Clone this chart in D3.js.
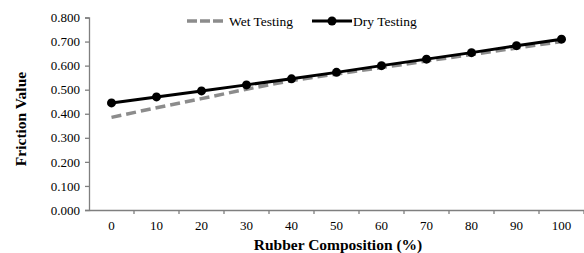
<!DOCTYPE html>
<html>
<head>
<meta charset="utf-8">
<script src="https://cdn.jsdelivr.net/npm/d3@7"></script>
<style>
  body { margin: 0; background: #fff; }
</style>
</head>
<body>
<div id="chart"></div>
<script>
// data
const categories = ["0", "10", "20", "30", "40", "50", "60", "70", "80", "90", "100"]
const wetValues = [0.385, 0.425, 0.463, 0.502, 0.538, 0.565, 0.592, 0.619, 0.646, 0.673, 0.700]
const dryValues = [0.445, 0.470, 0.495, 0.520, 0.545, 0.572, 0.600, 0.627, 0.654, 0.683, 0.710]
const yTicks = [0, 0.1, 0.2, 0.3, 0.4, 0.5, 0.6, 0.7, 0.8]

var width = 584,
    height = 253,
    margin = {top: 17.5, right: 0, bottom: 43, left: 89};

var font = "Liberation Serif"

var svg = d3.select("#chart").append("svg")
  .attr("width", width)
  .attr("height", height)
  .attr("font-family", font)

var x = d3.scaleBand()
  .domain(categories)
  .range([margin.left, width - margin.right])

var y = d3.scaleLinear()
  .domain([0, 0.8])
  .range([height - margin.bottom, margin.top])

var axisColor = "#7f7f7f"

// y axis
var yAxis = svg.append("g")
  .attr("transform", "translate(" + margin.left + ",0)")
  .call(d3.axisLeft(y).tickValues(yTicks).tickFormat(d3.format(".3f")).tickSizeOuter(0).tickSize(4).tickPadding(5))
  .attr("font-family", font)
  .attr("font-size", 13)
yAxis.select(".domain").attr("stroke", axisColor).attr("stroke-width", 1.3)
yAxis.selectAll(".tick line").attr("stroke", axisColor).attr("stroke-width", 1.3)
yAxis.selectAll("text").attr("fill", "#000")

// x axis, ticks at category boundaries
var xAxis = svg.append("g")
  .attr("transform", "translate(0," + y(0) + ")")
  .call(d3.axisBottom(x).tickSize(0).tickPadding(11))
  .attr("font-family", font)
  .attr("font-size", 13)
xAxis.select(".domain").attr("stroke", axisColor).attr("stroke-width", 1.3)
xAxis.selectAll("text").attr("fill", "#000")

xAxis.selectAll(".bound")
  .data(categories)
  .enter()
  .append("line")
  .attr("x1", d => x(d) + x.bandwidth())
  .attr("x2", d => x(d) + x.bandwidth())
  .attr("y1", 0)
  .attr("y2", 4)
  .attr("stroke", axisColor)
  .attr("stroke-width", 1.3)

var cx = d => x(d) + x.bandwidth() / 2

var line = d3.line()
  .x((d, i) => cx(categories[i]))
  .y(d => y(d))

// wet testing (dashed)
svg.append("path")
  .datum(wetValues)
  .attr("d", line)
  .attr("fill", "none")
  .attr("stroke", "#8c8c8c")
  .attr("stroke-width", 3.5)
  .attr("stroke-dasharray", "10,5")

// dry testing (solid with markers)
svg.append("path")
  .datum(dryValues)
  .attr("d", line)
  .attr("fill", "none")
  .attr("stroke", "#000")
  .attr("stroke-width", 3)

svg.selectAll(".dot")
  .data(dryValues)
  .enter()
  .append("circle")
  .attr("cx", (d, i) => cx(categories[i]))
  .attr("cy", d => y(d))
  .attr("r", 4.5)
  .attr("fill", "#000")

// legend
var legend = svg.append("g")
  .attr("font-size", 13.5)
legend.append("line")
  .attr("x1", 187).attr("x2", 225).attr("y1", 21).attr("y2", 21)
  .attr("stroke", "#8c8c8c").attr("stroke-width", 3.5).attr("stroke-dasharray", "10,3")
legend.append("text")
  .attr("x", 229).attr("y", 25.5)
  .text("Wet Testing")
legend.append("line")
  .attr("x1", 312).attr("x2", 352).attr("y1", 21).attr("y2", 21)
  .attr("stroke", "#000").attr("stroke-width", 3)
legend.append("circle")
  .attr("cx", 332).attr("cy", 21).attr("r", 4.5).attr("fill", "#000")
legend.append("text")
  .attr("x", 353).attr("y", 25.5)
  .text("Dry Testing")

// axis titles
svg.append("text")
  .attr("x", 338)
  .attr("y", 249.5)
  .attr("text-anchor", "middle")
  .attr("font-size", 15.5)
  .attr("font-weight", "bold")
  .text("Rubber Composition (%)")

svg.append("text")
  .attr("transform", "translate(26,119) rotate(-90)")
  .attr("text-anchor", "middle")
  .attr("font-size", 15.5)
  .attr("font-weight", "bold")
  .text("Friction Value")
</script>
</body>
</html>
